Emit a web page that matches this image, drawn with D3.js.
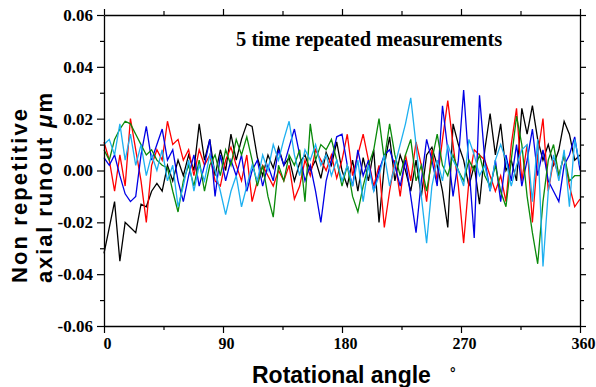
<!DOCTYPE html>
<html><head><meta charset="utf-8">
<script src="https://cdn.jsdelivr.net/npm/d3@7"></script>
<style>body{margin:0;background:#fff}svg{display:block}</style>
</head><body>
<svg id="c" width="596" height="387"></svg>
<script>
// angles 0..360 step 4
const angles = d3.range(0, 361, 4);
const black = [-0.032,-0.022,-0.012,-0.035,-0.020,-0.022,-0.024,-0.013,-0.014,-0.008,-0.005,-0.008,0.002,-0.004,0.004,-0.002,0.006,0.000,0.018,0.004,0.012,-0.002,0.008,0.000,0.014,0.004,0.012,0.018,0.017,0.005,-0.002,0.006,0.001,0.009,0.002,0.005,-0.004,0.003,0.006,0.000,0.004,-0.003,0.007,0.002,0.011,0.000,-0.006,0.004,-0.008,0.005,-0.004,0.008,-0.020,0.002,0.013,-0.004,0.006,0.000,-0.008,0.004,-0.010,0.006,0.009,0.002,-0.008,-0.022,0.018,0.010,0.004,-0.006,0.002,-0.013,0.008,0.022,0.006,0.018,0.000,0.004,-0.004,0.024,0.014,0.025,0.012,0.004,0.010,0.002,0.008,0.019,0.014,0.004,0.006];
const red = [0.011,0.004,-0.008,0.006,-0.006,0.020,0.008,-0.004,-0.020,0.002,0.008,0.004,0.019,0.010,0.012,0.004,0.008,-0.002,0.008,0.002,0.006,-0.004,-0.006,0.004,0.009,0.002,-0.004,0.006,-0.012,-0.004,0.002,-0.002,-0.006,0.000,-0.004,0.002,-0.011,-0.006,0.004,-0.002,0.008,0.004,0.000,0.006,-0.003,0.004,0.014,-0.002,0.006,0.014,0.004,-0.006,0.002,-0.022,-0.008,0.004,-0.010,0.006,-0.004,0.011,0.002,-0.012,0.008,-0.004,0.012,0.027,0.010,-0.006,-0.028,-0.004,0.008,0.006,0.004,-0.002,-0.008,-0.002,-0.012,0.010,0.024,-0.004,0.010,-0.020,0.006,0.020,-0.008,0.004,-0.002,0.006,-0.006,-0.014,-0.011];
const blue = [0.005,0.002,0.006,-0.002,-0.009,-0.012,-0.010,0.006,0.017,0.004,0.010,0.016,0.004,0.008,-0.004,-0.012,-0.002,0.006,-0.006,0.002,0.012,-0.010,0.006,-0.004,0.004,-0.002,0.006,-0.008,0.000,0.004,-0.006,0.002,-0.004,0.008,0.002,0.009,0.016,0.006,-0.004,0.002,-0.008,-0.020,-0.004,0.004,0.013,0.014,0.002,-0.006,0.008,-0.002,0.004,-0.008,0.000,0.006,0.008,0.002,-0.006,0.004,-0.010,-0.024,-0.004,0.012,0.004,-0.006,0.025,0.008,-0.010,0.004,0.031,0.002,-0.026,0.029,0.004,-0.008,0.004,-0.012,0.006,-0.004,0.010,-0.006,0.004,0.016,-0.002,0.008,-0.004,-0.008,-0.012,0.002,0.006,0.013,0.000];
const green = [0.008,0.004,0.012,0.016,0.019,0.018,0.014,0.010,0.006,0.008,0.004,0.002,0.001,-0.008,-0.016,-0.004,0.002,-0.006,0.004,-0.008,0.002,0.006,-0.002,0.008,0.002,0.012,0.006,0.013,0.004,-0.006,0.002,-0.010,-0.018,0.002,-0.004,0.006,0.002,0.008,-0.012,0.018,0.004,0.010,0.008,0.012,0.004,-0.006,0.002,-0.010,-0.016,-0.006,0.002,0.008,0.020,0.004,0.018,0.006,-0.002,0.006,0.012,-0.004,0.002,-0.008,0.004,0.014,0.002,-0.002,0.006,0.000,-0.004,0.004,0.000,0.006,-0.002,-0.006,0.002,-0.008,-0.014,0.004,0.021,0.010,-0.010,-0.024,-0.036,-0.012,0.004,0.010,-0.002,0.006,-0.004,-0.002,-0.002];
const skyblue = [0.010,0.012,0.006,0.018,0.004,0.014,0.002,0.010,-0.002,0.006,0.000,0.008,-0.004,0.002,-0.014,-0.006,0.004,-0.008,0.002,-0.004,0.006,0.000,-0.008,-0.017,-0.008,-0.002,-0.014,-0.006,0.002,-0.004,0.006,0.000,0.010,0.004,0.012,0.019,0.006,-0.002,0.008,0.004,0.010,0.002,0.006,-0.002,0.004,-0.004,0.002,-0.006,0.004,-0.012,0.002,-0.008,-0.002,0.006,-0.006,0.002,0.010,0.018,0.028,0.010,-0.010,-0.028,-0.006,0.004,-0.004,0.010,0.004,0.000,-0.006,0.012,0.006,-0.002,0.002,-0.008,0.004,0.010,0.004,-0.006,0.002,0.008,0.010,-0.012,0.012,-0.037,-0.008,0.006,-0.004,0.008,-0.014,0.012,0.002];
const seriesNames = ["black","red","blue","green","skyblue"];
const seriesColors = ["#000000","#ff0000","#0000e6","#0a8a0a","#1eb0f0"];
const xTicks = [0,90,180,270,360];
const yTicks = [-0.06,-0.04,-0.02,0.00,0.02,0.04,0.06];
const titleText = "5 time repeated measurements";
const xLabel = "Rotational angle";
const yLabel1 = "Non repetitive";
const yLabel2 = "axial runout  ";

const svg = d3.select("#c");
const L=104, R=580, T=15, B=326;
const x = d3.scaleLinear().domain([0,360]).range([L,R]);
const y = d3.scaleLinear().domain([-0.06,0.06]).range([B,T]);

const data = [black, red, blue, green, skyblue];
const line = d3.line().x((d,i)=>x(angles[i])).y(d=>y(d));
const plot = svg.append("g");
data.forEach((s,k)=>{
  plot.append("path").attr("d", line(s)).attr("fill","none")
    .attr("stroke", seriesColors[k]).attr("stroke-width",1.3).attr("stroke-linejoin","miter");
});

const tickFont = "'Liberation Serif','Times New Roman',serif";
function axisStyle(g){ g.select(".domain").attr("stroke","#000").attr("stroke-width",1.3);
  g.selectAll(".tick line").attr("stroke","#000").attr("stroke-width",1.2); }
const xMinor = d3.range(45,360,90);
const yMinor = d3.range(-0.05,0.06,0.02);

svg.append("g").attr("transform",`translate(0,${B})`)
  .call(d3.axisBottom(x).tickValues(xTicks).tickSize(7).tickSizeOuter(0).tickFormat(d3.format("d")).tickPadding(5))
  .call(axisStyle)
  .call(g=>g.selectAll("text").attr("font-family",tickFont).attr("font-weight","bold").attr("font-size",16).attr("fill","#000").attr("dx",3));
svg.append("g").attr("transform",`translate(0,${B})`)
  .call(d3.axisBottom(x).tickValues(xMinor).tickSize(4).tickSizeOuter(0).tickFormat(""))
  .call(axisStyle).call(g=>g.select(".domain").remove());
svg.append("g").attr("transform",`translate(0,${T})`)
  .call(d3.axisTop(x).tickValues(xTicks).tickSize(6).tickSizeOuter(0).tickFormat(""))
  .call(axisStyle);
svg.append("g").attr("transform",`translate(0,${T})`)
  .call(d3.axisTop(x).tickValues(xMinor).tickSize(4).tickSizeOuter(0).tickFormat(""))
  .call(axisStyle).call(g=>g.select(".domain").remove());

svg.append("g").attr("transform",`translate(${L},0)`)
  .call(d3.axisLeft(y).tickValues(yTicks).tickSize(7).tickSizeOuter(0).tickFormat(d=>d3.format(".2f")(d).replace("−","-")).tickPadding(4))
  .call(axisStyle)
  .call(g=>g.selectAll("text").attr("font-family",tickFont).attr("font-weight","bold").attr("font-size",17).attr("fill","#000"));
svg.append("g").attr("transform",`translate(${L},0)`)
  .call(d3.axisLeft(y).tickValues(yMinor).tickSize(4).tickSizeOuter(0).tickFormat(""))
  .call(axisStyle).call(g=>g.select(".domain").remove());
svg.append("g").attr("transform",`translate(${R},0)`)
  .call(d3.axisRight(y).tickValues(yTicks).tickSize(6).tickSizeOuter(0).tickFormat(""))
  .call(axisStyle);
svg.append("g").attr("transform",`translate(${R},0)`)
  .call(d3.axisRight(y).tickValues(yMinor).tickSize(4).tickSizeOuter(0).tickFormat(""))
  .call(axisStyle).call(g=>g.select(".domain").remove());

// title
svg.append("text").attr("x",236).attr("y",46).attr("font-family",tickFont).attr("font-weight","bold")
  .attr("font-size",20.5).attr("fill","#000").text(titleText);

// x label
const sans = "'Liberation Sans',Arial,sans-serif";
svg.append("text").attr("x",252).attr("y",383).attr("font-family",sans).attr("font-weight","bold")
  .attr("font-size",23).attr("fill","#000").text(xLabel);
svg.append("text").attr("x",450).attr("y",378).attr("font-family",sans).attr("font-weight","bold")
  .attr("font-size",14).attr("fill","#000").text("°");

// y label
svg.append("text").attr("transform","translate(27,283) rotate(-90)").attr("font-family",sans).attr("font-weight","bold")
  .attr("font-size",22).attr("fill","#000").attr("textLength",174).attr("lengthAdjust","spacing").text(yLabel1);
const t2 = svg.append("text").attr("transform","translate(52,283) rotate(-90)").attr("font-family",sans).attr("font-weight","bold")
  .attr("font-size",22).attr("fill","#000").attr("textLength",190).attr("lengthAdjust","spacing");
t2.append("tspan").text(yLabel2);
t2.append("tspan").attr("font-style","italic").text("μ");
t2.append("tspan").text("m");
</script>
</body></html>
